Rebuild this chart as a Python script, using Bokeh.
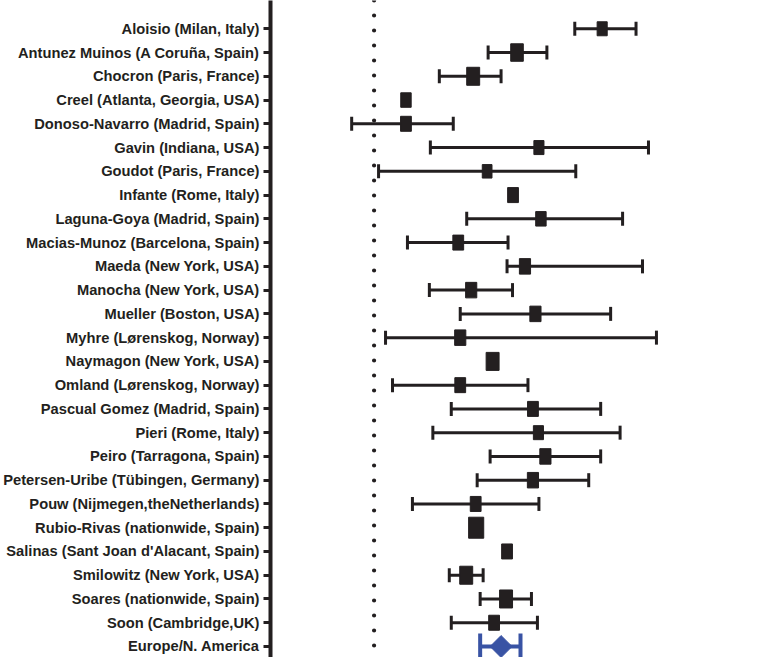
from bokeh.plotting import figure
from bokeh.models import ColumnDataSource, FixedTicker, Range1d, Span, Whisker, TeeHead
from bokeh.embed import file_html
from bokeh.resources import INLINE

studies = [
    "Aloisio (Milan, Italy)",
    "Antunez Muinos (A Coruña, Spain)",
    "Chocron (Paris, France)",
    "Creel (Atlanta, Georgia, USA)",
    "Donoso-Navarro (Madrid, Spain)",
    "Gavin (Indiana, USA)",
    "Goudot (Paris, France)",
    "Infante (Rome, Italy)",
    "Laguna-Goya (Madrid, Spain)",
    "Macias-Munoz (Barcelona, Spain)",
    "Maeda (New York, USA)",
    "Manocha (New York, USA)",
    "Mueller (Boston, USA)",
    "Myhre (Lørenskog, Norway)",
    "Naymagon (New York, USA)",
    "Omland (Lørenskog, Norway)",
    "Pascual Gomez (Madrid, Spain)",
    "Pieri (Rome, Italy)",
    "Peiro (Tarragona, Spain)",
    "Petersen-Uribe (Tübingen, Germany)",
    "Pouw (Nijmegen,theNetherlands)",
    "Rubio-Rivas (nationwide, Spain)",
    "Salinas (Sant Joan d'Alacant, Spain)",
    "Smilowitz (New York, USA)",
    "Soares (nationwide, Spain)",
    "Soon (Cambridge,UK)",
]
estimate = [45.8, 28.7, 19.9, 6.4, 6.4, 33.1, 22.7, 27.9, 33.5, 16.9, 30.3, 19.5, 32.4,
            17.3, 23.8, 17.3, 31.9, 33.0, 34.4, 31.9, 20.4, 20.5, 26.7, 18.5, 26.5, 24.1]
lower = [40.3, 22.9, 13.1, 6.0, -4.5, 11.3, 0.9, 27.5, 18.6, 6.7, 26.7, 11.1, 17.3,
         2.3, 23.4, 3.7, 15.5, 11.8, 23.3, 20.7, 7.7, 20.1, 26.3, 15.1, 21.3, 15.5]
upper = [52.6, 34.7, 25.5, 6.8, 15.9, 55.1, 40.5, 28.3, 49.9, 26.9, 53.9, 27.8, 47.5,
         56.7, 24.2, 30.9, 45.5, 49.4, 45.5, 43.1, 33.1, 20.9, 27.1, 21.9, 31.6, 32.8]
weights = [2.8, 3.5, 3.6, 2.9, 3.0, 2.8, 2.7, 3.0, 2.9, 3.0, 3.1, 3.1, 3.1,
           3.1, 3.6, 3.0, 3.0, 2.8, 3.1, 3.1, 3.0, 4.2, 3.0, 3.6, 3.6, 3.0]

pooled_label = "Europe/N. America"
pooled_estimate = 25.5
pooled_lower = 21.3
pooled_upper = 29.4

n = len(studies) + 1
ypos = [n - 1 - i for i in range(len(studies))]
pooled_y = 0

dark = "#231f20"
blue = "#3953a4"

src = ColumnDataSource(dict(
    y=ypos, est=estimate, lo=lower, hi=upper,
    h=[w * 5 for w in weights], w=[w * 5 * 0.72 for w in weights],
))
psrc = ColumnDataSource(dict(y=[pooled_y], est=[pooled_estimate], lo=[pooled_lower], hi=[pooled_upper]))

p = figure(width=768, height=657, output_backend="svg", toolbar_location=None,
           x_range=Range1d(-20.8, 79.2), y_range=Range1d(-0.463, n - 1 + 1.19),
           min_border_left=268, min_border_right=0, min_border_top=0, min_border_bottom=0,
           outline_line_color=None, background_fill_color="white", border_fill_color="white")
p.grid.visible = False
p.xaxis.visible = False

p.yaxis.ticker = FixedTicker(ticks=ypos + [pooled_y])
overrides = {yy: s for yy, s in zip(ypos, studies)}
overrides[pooled_y] = pooled_label
p.yaxis.major_label_overrides = overrides
p.yaxis.minor_tick_line_color = None
p.yaxis.major_tick_in = 0
p.yaxis.major_tick_out = 7
p.yaxis.major_tick_line_width = 3
p.yaxis.major_tick_line_color = dark
p.yaxis.axis_line_width = 4
p.yaxis.axis_line_color = dark
p.yaxis.major_label_text_font = "Liberation Sans"
p.yaxis.major_label_text_font_style = "bold"
p.yaxis.major_label_text_font_size = "14.7px"
p.yaxis.major_label_text_color = dark
p.yaxis.major_label_standoff = 4

p.add_layout(Span(location=0, dimension="height", line_color=dark, line_width=4.2,
                  line_dash="0 15", line_cap="round"))

p.add_layout(Whisker(source=src, base="y", lower="lo", upper="hi", dimension="width",
                     line_color=dark, line_width=3,
                     lower_head=TeeHead(size=14, line_color=dark, line_width=3),
                     upper_head=TeeHead(size=14, line_color=dark, line_width=3)))
p.rect(x="est", y="y", width="w", height="h", width_units="screen", height_units="screen",
       source=src, fill_color=dark, line_color=dark)

p.add_layout(Whisker(source=psrc, base="y", lower="lo", upper="hi", dimension="width",
                     line_color=blue, line_width=4,
                     lower_head=TeeHead(size=26, line_color=blue, line_width=4),
                     upper_head=TeeHead(size=26, line_color=blue, line_width=4)))
p.rect(x="est", y="y", width=15.5, height=15.5, angle=0.7853981634,
       width_units="screen", height_units="screen", source=psrc,
       fill_color=blue, line_color=blue)

open("out.html", "w").write(file_html(p, INLINE))
